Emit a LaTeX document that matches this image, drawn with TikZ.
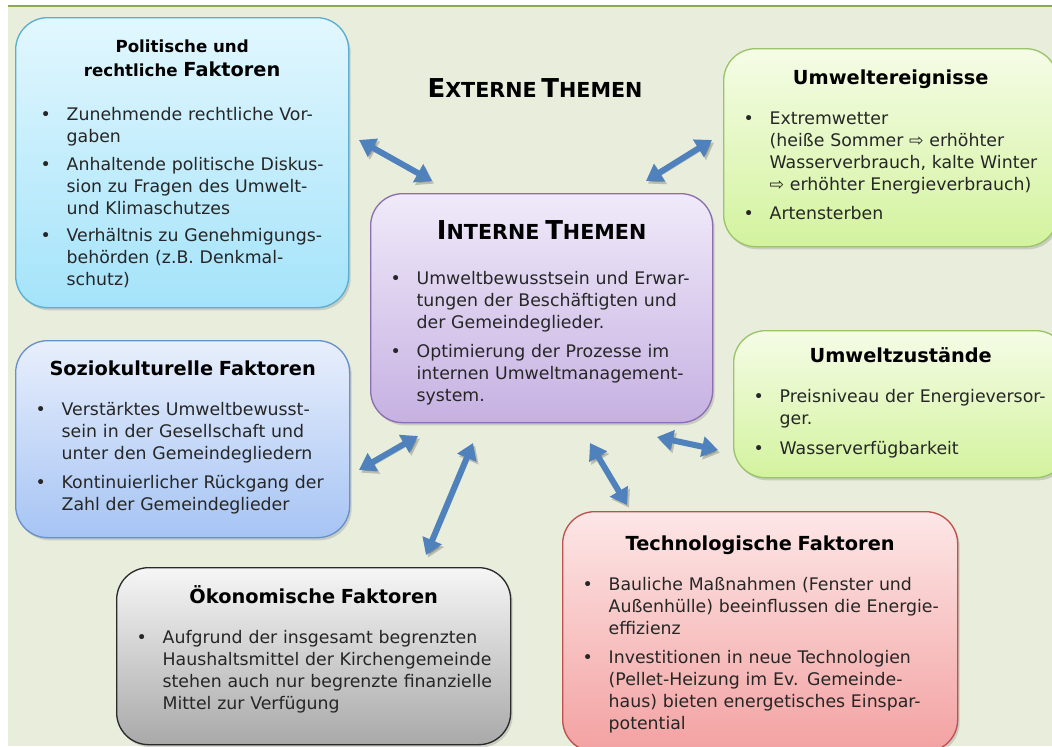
\documentclass[tikz,border=0pt]{standalone}
\usepackage{fontspec}
\setmainfont{DejaVu Sans}
\usepackage{tikz}
\usetikzlibrary{arrows.meta,positioning,shadows}
\definecolor{bgcream}{HTML}{E9EDDC}
\definecolor{topline}{HTML}{8EA852}
\definecolor{textgray}{HTML}{262626}
\definecolor{arrowblue}{HTML}{4F81BD}
\definecolor{poltop}{HTML}{E2F7FE}
\definecolor{polbot}{HTML}{A4E3FA}
\definecolor{polborder}{HTML}{5AAED0}
\definecolor{soztop}{HTML}{E8EFFC}
\definecolor{sozbot}{HTML}{A6C4F4}
\definecolor{sozborder}{HTML}{6890CC}
\definecolor{oektop}{HTML}{F6F6F6}
\definecolor{oekbot}{HTML}{A9A9A9}
\definecolor{oekborder}{HTML}{2A2A2A}
\definecolor{inttop}{HTML}{F0EAF9}
\definecolor{intbot}{HTML}{C6B1E2}
\definecolor{intborder}{HTML}{8B6FB0}
\definecolor{umwtop}{HTML}{F5FCE6}
\definecolor{umwbot}{HTML}{D3F39E}
\definecolor{umwborder}{HTML}{9BC46A}
\definecolor{techtop}{HTML}{FDE7E7}
\definecolor{techbot}{HTML}{F3A1A1}
\definecolor{techborder}{HTML}{C0504D}
\setlength{\parindent}{0pt}
\newcommand{\bodyfont}{\fontsize{13}{16.5}\selectfont}
\newcommand{\titlefont}{\fontsize{14.5}{18}\selectfont\bfseries}
\newcommand{\boxhead}[2][13.5pt]{{\centering\titlefont #2\par}\vspace{#1}}
\newcommand{\itm}[2][4.5pt]{\par\noindent\makebox[19.5pt][l]{\textbullet}\begin{tabular}[t]{@{}l@{}}#2\end{tabular}\par\vspace{#1}}
\newcommand{\fakesc}[2]{{\fontsize{19.5}{19.5}\selectfont #1}{\fontsize{15.5}{19.5}\selectfont #2}}

\begin{document}
\begin{tikzpicture}[x=0.75pt, y=-0.75pt, >=Stealth,
  themebox/.style={draw, line width=1pt, rounded corners=24pt, anchor=north west,
    align=left, inner xsep=15pt, inner ysep=0pt, font=\bodyfont, text=textgray,
    drop shadow={shadow xshift=1.5pt, shadow yshift=-2pt, opacity=0.3}},
  dblarrow/.style={{Triangle[width=15pt,length=12pt]}-{Triangle[width=15pt,length=12pt]},
    line width=4.5pt, draw=arrowblue,
    preaction={draw=black, opacity=0.2, transform canvas={xshift=1.5pt, yshift=-2pt}}}]
  % Canvas
  \useasboundingbox (0,0) rectangle (1052,746);
  \clip (0,0) rectangle (1052,746);
  \fill[white] (0,0) rectangle (1052,746);
  \fill[bgcream] (8,5) rectangle (1052,746);
  \draw[topline, line width=2.2pt] (8,6) -- (1052,6);

  % Heading
  \node[font=\bfseries, text=black] (extern) at (535,88) {\fakesc{E}{XTERNE} \fakesc{T}{HEMEN}};

  % External factor boxes
  \node[themebox, draw=polborder, top color=poltop, bottom color=polbot, inner xsep=18.75pt,
    minimum width=249.75pt, minimum height=217.5pt, text width=212.25pt] (polit) at (15,17) {
    {\centering\bfseries\color{black}\fontsize{12.5}{18}\selectfont\rule{0pt}{14pt}Politische und\\rechtliche {\fontsize{14.5}{18}\selectfont Faktoren}\par}\vspace{17pt}
    \itm[3pt]{Zunehmende rechtliche Vor-\\gaben}
    \itm[3pt]{Anhaltende politische Diskus-\\sion zu Fragen des Umwelt-\\und Klimaschutzes}
    \itm[0pt]{Verhältnis zu Genehmigungs-\\behörden (z.B. Denkmal-\\schutz)}
  };
  \node[themebox, draw=sozborder, top color=soztop, bottom color=sozbot,
    minimum width=250.5pt, minimum height=147.75pt, text width=220.5pt] (sozio) at (15,340) {
    \boxhead{\color{black}Soziokulturelle Faktoren}
    \itm{Verstärktes Umweltbewusst-\\sein in der Gesellschaft und\\unter den Gemeindegliedern}
    \itm[0pt]{Kontinuierlicher Rückgang der\\Zahl der Gemeindeglieder}
  };
  \node[themebox, draw=oekborder, top color=oektop, bottom color=oekbot,
    minimum width=295.5pt, minimum height=132.75pt, text width=265.5pt] (oekon) at (116,567) {
    \boxhead{\color{black}Ökonomische Faktoren}
    \itm[8pt]{Aufgrund der insgesamt begrenzten\\Haushaltsmittel der Kirchengemeinde\\stehen auch nur begrenzte finanzielle\\Mittel zur Verfügung}
  };
  \node[themebox, draw=umwborder, top color=umwtop, bottom color=umwbot,
    minimum width=250.5pt, minimum height=148.5pt, text width=220.5pt] (ereig) at (723,48) {
    \boxhead{\color{black}Umweltereignisse}
    \itm{Extremwetter\\(heiße Sommer ⇨ erhöhter\\Wasserverbrauch, kalte Winter\\⇨ erhöhter Energieverbrauch)}
    \itm[0pt]{Artensterben}
  };
  \node[themebox, draw=umwborder, top color=umwtop, bottom color=umwbot,
    minimum width=250.5pt, minimum height=110.25pt, text width=220.5pt] (zustd) at (733,330) {
    \boxhead{\color{black}Umweltzustände}
    \itm{Preisniveau der Energieversor-\\ger.}
    \itm[0pt]{Wasserverfügbarkeit}
  };
  \node[themebox, draw=techborder, top color=techtop, bottom color=techbot,
    minimum width=296.25pt, minimum height=180pt, text width=266.25pt] (techn) at (562,511) {
    \boxhead{\color{black}\rule{0pt}{17pt}Technologische Faktoren}
    \itm{Bauliche Maßnahmen (Fenster und\\Außenhülle) beeinflussen die Energie-\\effizienz}
    \itm[0pt]{Investitionen in neue Technologien\\(Pellet-Heizung im Ev. Gemeinde-\\haus) bieten energetisches Einspar-\\potential}
  };

  % Internal topics
  \node[themebox, draw=intborder, top color=inttop, bottom color=intbot,
    minimum width=256.5pt, minimum height=171.75pt, text width=226.5pt] (intern) at (370,193) {
    \boxhead[17pt]{\color{black}\rule{0pt}{24pt}\fakesc{I}{NTERNE} \fakesc{T}{HEMEN}\hspace{6pt}}
    \itm{Umweltbewusstsein und Erwar-\\tungen der Beschäftigten und\\der Gemeindeglieder.}
    \itm[0pt]{Optimierung der Prozesse im\\internen Umweltmanagement-\\system.}
  };

  % Arrow ends
  \coordinate (politEnd) at (359,140);
  \coordinate (internA) at (432,181);
  \coordinate (ereigEnd) at (712,140);
  \coordinate (internB) at (646,181);
  \coordinate (sozioEnd) at (359,470);
  \coordinate (internC) at (418,436);
  \coordinate (internD) at (473,443);
  \coordinate (oekonEnd) at (426,555);
  \coordinate (internE) at (590,443);
  \coordinate (technEnd) at (627,505);
  \coordinate (internF) at (657,437);
  \coordinate (zustdEnd) at (718,450);

  % Arrows
  \draw[dblarrow] (politEnd) -- (internA);
  \draw[dblarrow] (ereigEnd) -- (internB);
  \draw[dblarrow] (sozioEnd) -- (internC);
  \draw[dblarrow] (internD) -- (oekonEnd);
  \draw[dblarrow] (internE) -- (technEnd);
  \draw[dblarrow] (internF) -- (zustdEnd);
\end{tikzpicture}
\end{document}
